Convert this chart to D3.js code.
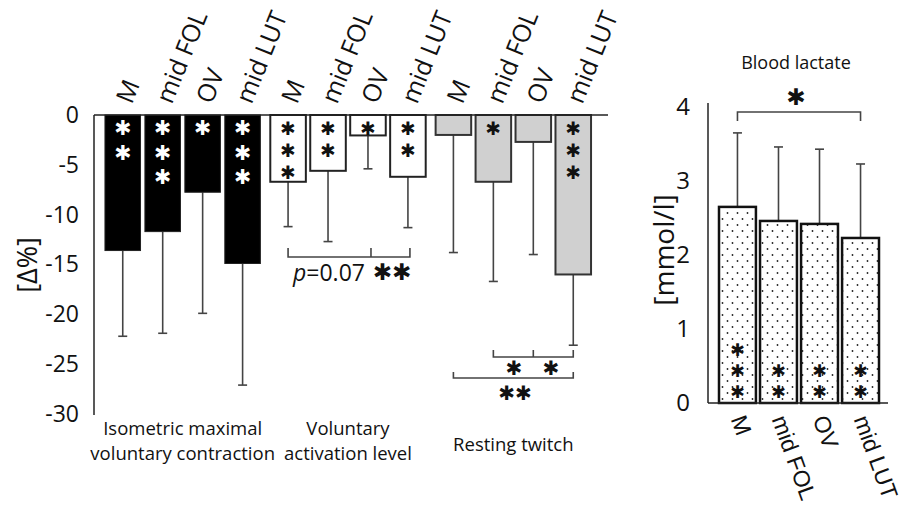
<!DOCTYPE html>
<html><head><meta charset="utf-8">
<script src="https://cdn.jsdelivr.net/npm/d3@7"></script>
<style>
body{margin:0;background:#fff;}
svg{display:block;}
text{font-family:"Open Sans","Noto Sans",sans-serif;fill:#111;}
</style></head>
<body>
<svg id="c" width="902" height="510"></svg>
<script>
// ---------- data ----------
const groupLabels = [["Isometric maximal","voluntary contraction"],["Voluntary","activation level"],["Resting twitch"]];
const sites = ["M","mid FOL","OV","mid LUT"];
const mvcMean = [-13.6,-11.7,-7.75,-14.9];
const mvcSD   = [8.6,10.2,12.15,12.2];
const valMean = [-6.7,-5.6,-2.05,-6.2];
const valSD   = [4.5,7.1,3.35,5.1];
const twMean  = [-2.0,-6.7,-2.7,-16.0];
const twSD    = [11.8,10.0,11.3,7.1];
const mvcStars = [2,3,1,3];
const valStars = [3,2,1,2];
const twStars  = [0,1,0,3];
const leftTicks = [0,-5,-10,-15,-20,-25,-30];
const lacMean = [2.65,2.46,2.42,2.23];
const lacSD   = [1.0,1.0,1.01,1.0];
const lacStars = [3,2,2,2];
const rightTicks = [0,1,2,3,4];

const svg = d3.select("#c");
const defs = svg.append("defs");
const pat = defs.append("pattern").attr("id","dots").attr("patternUnits","userSpaceOnUse")
  .attr("width",10).attr("height",12);
pat.append("rect").attr("width",10).attr("height",12).attr("fill","#fff");
pat.append("circle").attr("cx",2.5).attr("cy",3).attr("r",0.9).attr("fill","#222");
pat.append("circle").attr("cx",7.5).attr("cy",9).attr("r",0.9).attr("fill","#222");

const STAR = "\u2731";
const STARFONT = "'DejaVu Sans',sans-serif";

function starText(sel,x,y,txt,fs,fill){
  return sel.append("text").attr("x",x).attr("y",y).attr("text-anchor","middle").attr("dominant-baseline","central")
    .attr("font-size",fs).style("font-family",STARFONT).style("fill",fill||"#111").text(txt);
}
function starStack(sel,x,y0,n,gap,fs,fill){
  for(let k=0;k<n;k++) starText(sel,x,y0+k*gap,STAR,fs,fill);
}

// ---------- left chart ----------
const groups = [
  {mean:mvcMean, sd:mvcSD, stars:mvcStars, fill:"#000", stroke:"#222", starFill:"#fff", starGap:24.5, fs:20.5},
  {mean:valMean, sd:valSD, stars:valStars, fill:"#fff", stroke:"#222", starFill:"#111", starGap:22, fs:18.5},
  {mean:twMean,  sd:twSD,  stars:twStars,  fill:"#d0d0d0", stroke:"#333", starFill:"#111", starGap:22, fs:18.5}
];
const yL = d3.scaleLinear().domain([-30,0]).range([414,115]);
const x0 = d3.scaleBand().domain(d3.range(3)).range([100,596]).paddingInner(0.06).paddingOuter(0.03);
const x1 = d3.scaleBand().domain(sites).range([0,x0.bandwidth()]).paddingInner(0.11);

const L = svg.append("g");
const ax = L.append("g").attr("transform","translate(94,0)")
  .call(d3.axisLeft(yL).tickValues(leftTicks).tickSize(0).tickPadding(15).tickFormat(d=>String(d)));
ax.select(".domain").remove();
ax.selectAll("text").attr("font-size",23).attr("fill","#111").style("font-family","'Open Sans',sans-serif");
L.append("line").attr("x1",94).attr("x2",94).attr("y1",yL(0)).attr("y2",yL(-30)+1).attr("stroke","#222").attr("stroke-width",1.5);

groups.forEach((g,gi)=>{
  const gg = L.append("g").attr("transform",`translate(${x0(gi)},0)`);
  sites.forEach((s,i)=>{
    const cx = x1(s)+x1.bandwidth()/2;
    const yEnd = yL(g.mean[i]-g.sd[i]);
    gg.append("line").attr("x1",cx).attr("x2",cx).attr("y1",yL(g.mean[i])).attr("y2",yEnd)
      .attr("stroke","#444").attr("stroke-width",1.6);
    gg.append("line").attr("x1",cx-4.5).attr("x2",cx+4.5).attr("y1",yEnd).attr("y2",yEnd)
      .attr("stroke","#444").attr("stroke-width",1.6);
    gg.append("rect").attr("x",x1(s)).attr("y",yL(0)).attr("width",x1.bandwidth())
      .attr("height",yL(g.mean[i])-yL(0)).attr("fill",g.fill).attr("stroke",g.stroke).attr("stroke-width",gi===0?1:2);
    starStack(gg,cx,yL(0)+13,g.stars[i],g.starGap,g.fs,g.starFill);
    gg.append("text").attr("transform",`translate(${cx+9},105) rotate(-68)`).attr("font-size",25).text(s);
  });
  const lines = groupLabels[gi];
  const t = gg.append("text").attr("text-anchor","middle").attr("font-size",18.5)
     .attr("y", lines.length===1?451:435);
  lines.forEach((ln,j)=>t.append("tspan").attr("x",x0.bandwidth()/2).attr("dy",j===0?0:24.5).text(ln));
});
L.append("line").attr("x1",94).attr("x2",608).attr("y1",yL(0)).attr("y2",yL(0)).attr("stroke","#222").attr("stroke-width",1.5);
L.append("text").attr("transform","translate(37,265) rotate(-90)").attr("text-anchor","middle").attr("font-size",27).text("[Δ%]");

function cxOf(gi,i){return x0(gi)+x1(sites[i])+x1.bandwidth()/2;}
function bracket(sel,xa,xb,y,h,mid,dir){
  sel.append("path").attr("d",`M${xa},${y-dir*h}V${y}H${xb}V${y-dir*h}`).attr("fill","none").attr("stroke","#444").attr("stroke-width",1.6);
  if(mid!=null) sel.append("line").attr("x1",mid).attr("x2",mid).attr("y1",y).attr("y2",y-dir*h).attr("stroke","#444").attr("stroke-width",1.6);
}
// Voluntary activation brackets
bracket(L,cxOf(1,0),cxOf(1,3)+2,257,9,cxOf(1,2)+3,1);
const pt = L.append("text").attr("x",293).attr("y",281).attr("font-size",23);
pt.append("tspan").attr("font-style","italic").text("p");
pt.append("tspan").text("=0.07");
starText(L,392,272,STAR+STAR,23);
// Resting twitch brackets
bracket(L,cxOf(2,1),cxOf(2,3),357,7,cxOf(2,2),1);
bracket(L,cxOf(2,0),cxOf(2,3),378,6,null,1);
starText(L,514,368,STAR,20);
starText(L,551,368,STAR,20);
starText(L,515,392.5,STAR+STAR,20);

// ---------- right chart ----------
const yR = d3.scaleLinear().domain([0,4]).range([403,107]);
const xR = d3.scaleBand().domain(sites).range([719,879]).paddingInner(0.1);
const R = svg.append("g");
const axR = R.append("g").attr("transform","translate(708,0)")
  .call(d3.axisLeft(yR).tickValues(rightTicks).tickSize(0).tickPadding(18).tickFormat(d=>String(d)));
axR.select(".domain").remove();
axR.selectAll("text").attr("font-size",24).attr("fill","#111").style("font-family","'Open Sans',sans-serif");
R.append("line").attr("x1",708).attr("x2",708).attr("y1",103).attr("y2",yR(0)).attr("stroke","#222").attr("stroke-width",1.5);
sites.forEach((s,i)=>{
  const cx = xR(s)+xR.bandwidth()/2;
  const yTop = yR(lacMean[i]+lacSD[i]);
  R.append("line").attr("x1",cx).attr("x2",cx).attr("y1",yR(lacMean[i])).attr("y2",yTop).attr("stroke","#444").attr("stroke-width",1.6);
  R.append("line").attr("x1",cx-4.5).attr("x2",cx+4.5).attr("y1",yTop).attr("y2",yTop).attr("stroke","#444").attr("stroke-width",1.6);
  R.append("rect").attr("x",xR(s)).attr("y",yR(lacMean[i])).attr("width",xR.bandwidth())
   .attr("height",yR(0)-yR(lacMean[i])).attr("fill","url(#dots)").attr("stroke","#111").attr("stroke-width",2.5);
  starStack(R,cx,yR(0)-11-(lacStars[i]-1)*21,lacStars[i],21,17.5,"#111");
  R.append("text").attr("transform",`translate(${cx-7},419) rotate(70)`).attr("font-size",23)
   .style("font-family","'Liberation Sans',Arial,sans-serif").text(s);
});
R.append("line").attr("x1",708).attr("x2",888).attr("y1",yR(0)).attr("y2",yR(0)).attr("stroke","#222").attr("stroke-width",1.5);
bracket(R,xR(sites[0])+xR.bandwidth()/2,xR(sites[3])+xR.bandwidth()/2,112,9,null,-1);
starText(R,796,97,STAR,23);
R.append("text").attr("x",796).attr("y",69).attr("text-anchor","middle").attr("font-size",18).text("Blood lactate");
R.append("text").attr("transform","translate(674,250) rotate(-90)").attr("text-anchor","middle").attr("font-size",28).text("[mmol/l]");
</script>
</body></html>
